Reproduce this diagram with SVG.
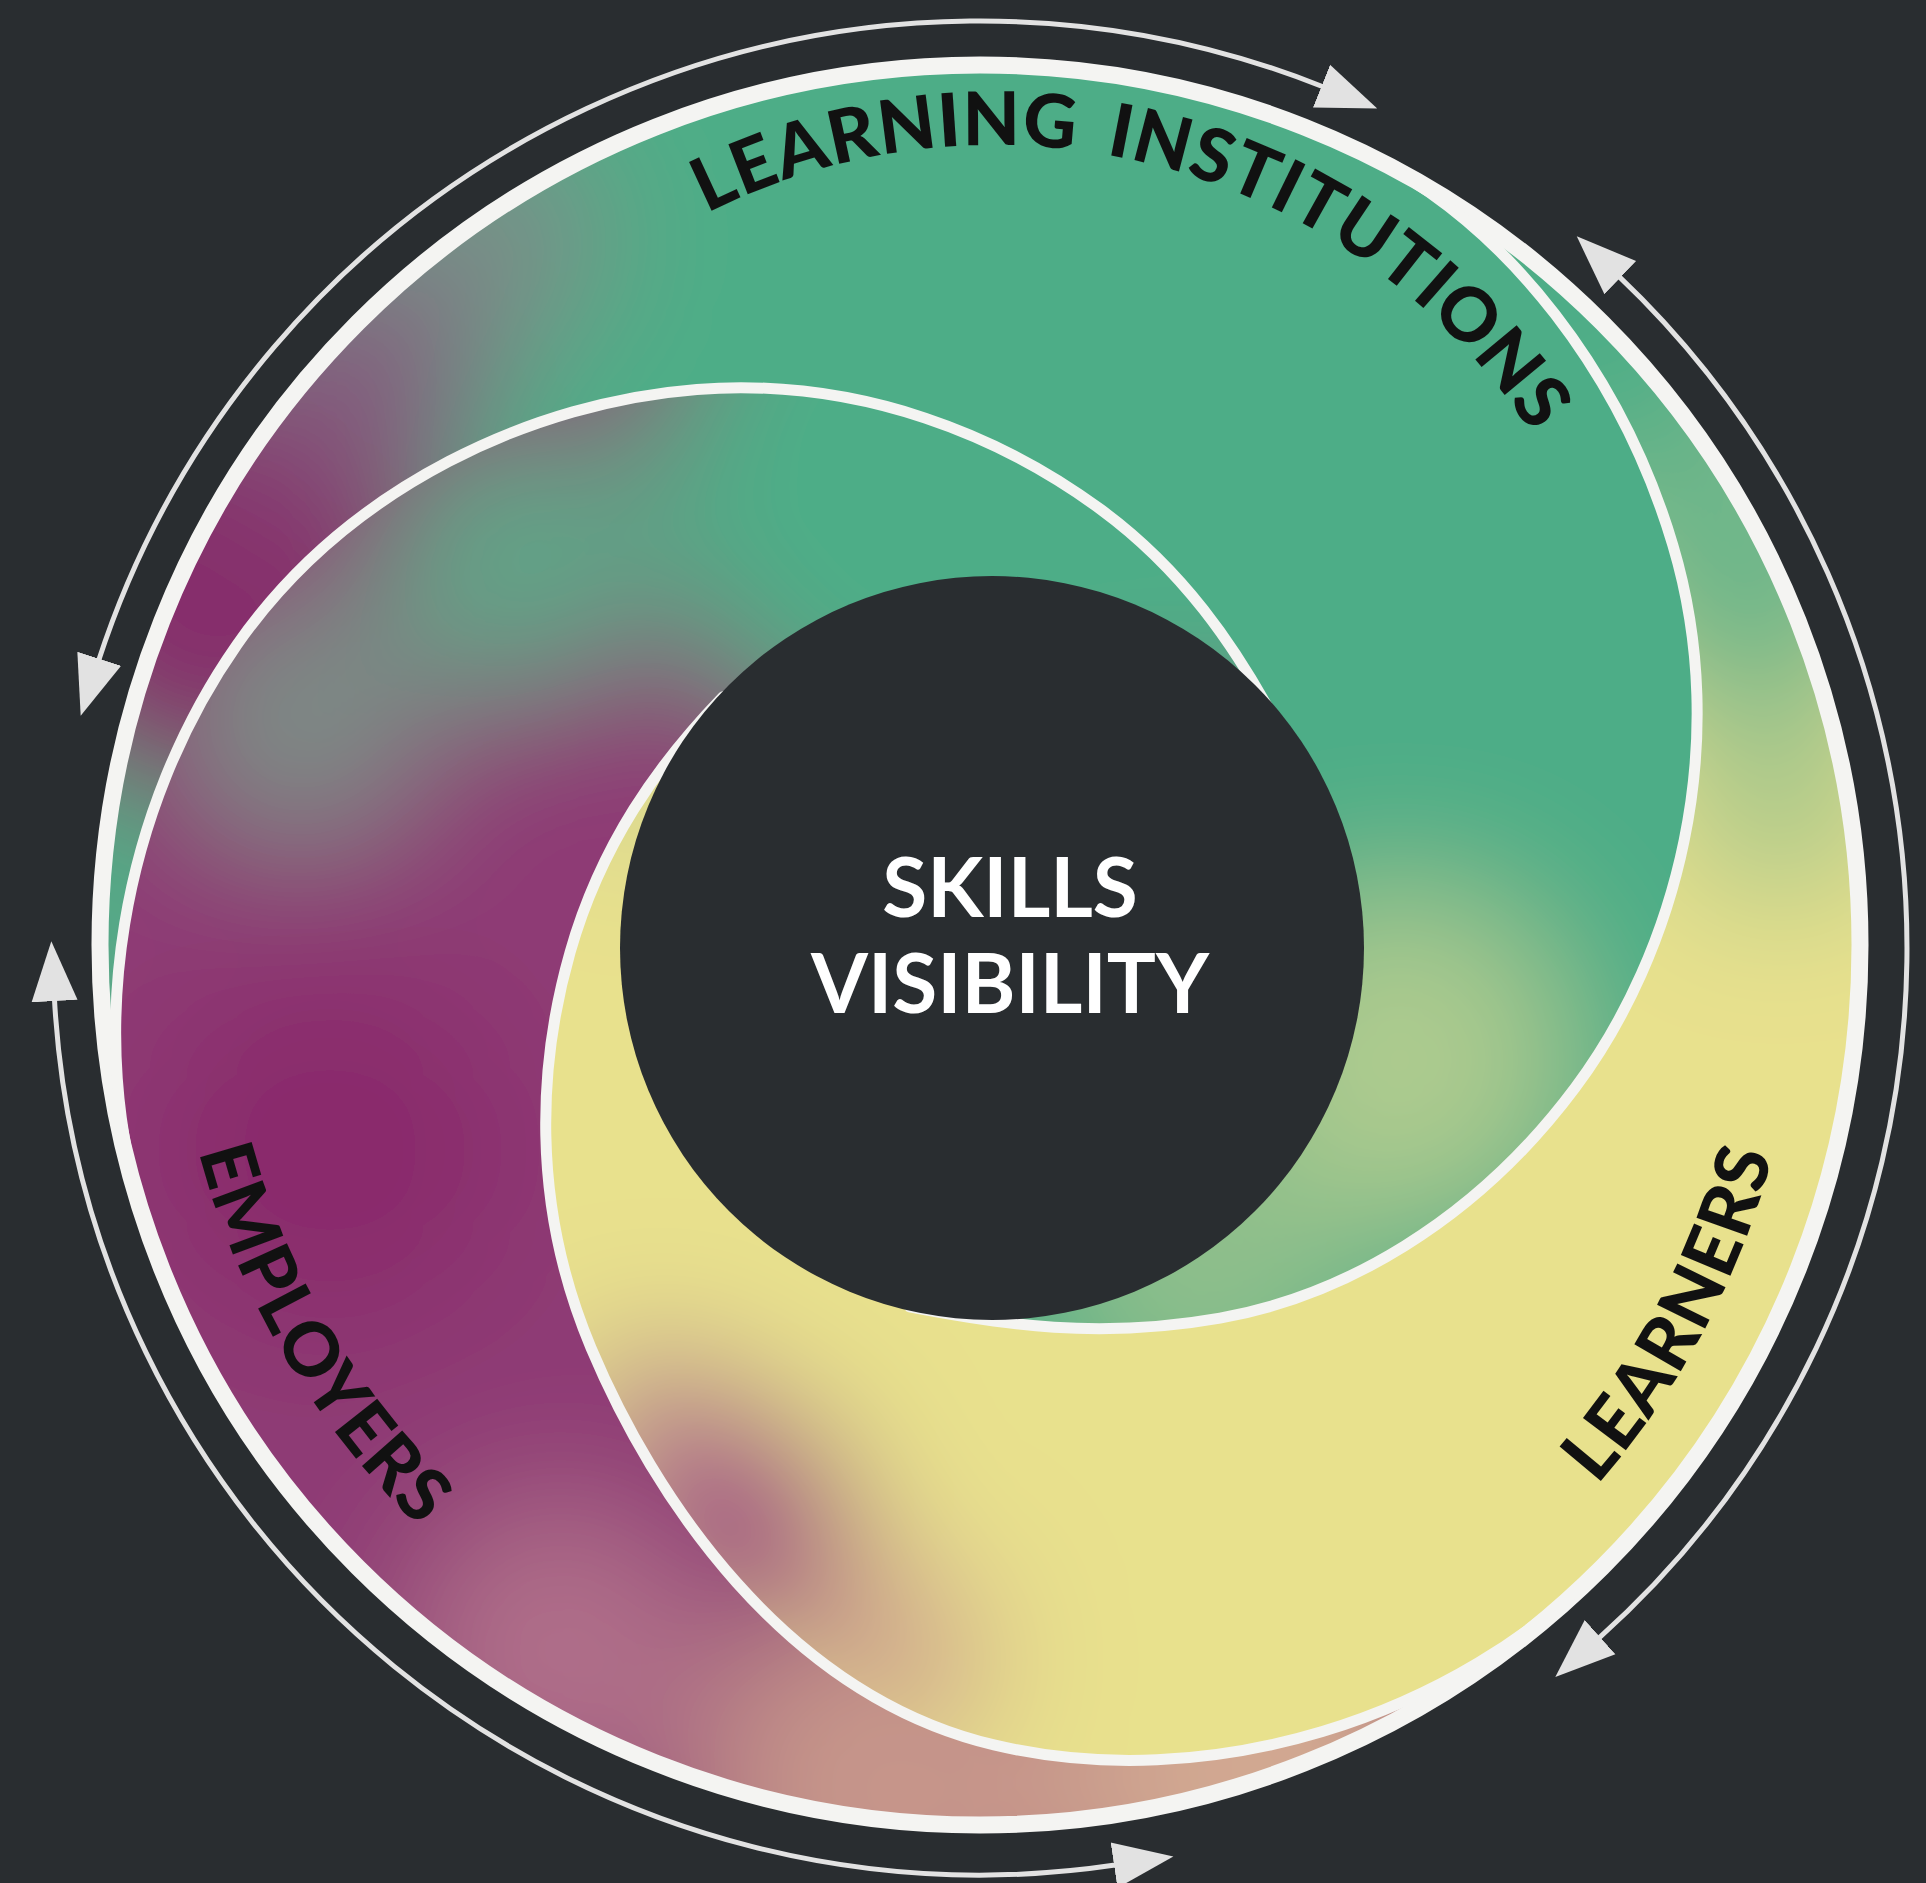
<svg xmlns="http://www.w3.org/2000/svg" width="1926" height="1883" viewBox="0 0 1926 1883">
<style>
.bg{fill:#292D30}
.ring{fill:none;stroke:#F4F4F2;stroke-width:17}
.swirl{fill:none;stroke:#F4F4F2;stroke-width:11;stroke-linecap:round}
.arrow{fill:none;stroke:#E2E2E2;stroke-width:5;marker-start:url(#head);marker-end:url(#head)}
.lbl{font-family:Lato,'Liberation Sans',sans-serif;font-weight:900;font-size:74px;fill:#111111;letter-spacing:1px}
.ctr{font-family:Lato,'Liberation Sans',sans-serif;font-weight:700;font-size:82px;fill:#FFFFFF;text-anchor:middle}
</style>
<defs>
<filter id="soft" filterUnits="userSpaceOnUse" x="-300" y="-300" width="2526" height="2483">
<feGaussianBlur stdDeviation="70"/>
</filter>
<clipPath id="band1"><path d="M 148 1231.5 A 880 880 0 0 1 1351.9 147.5 C 1514.3 223.2 1624.9 384.6 1672.8 545 C 1732.4 744.4 1676 952.7 1575.1 1087.8 C 1473.7 1223.6 1340.6 1296.8 1220 1318.1 C 1099.4 1339.4 1001.8 1324.8 909.7 1306.9 L 1272.8 716.2 C 1234.3 646.2 1183.5 570.3 1100.8 509.5 C 1004.5 438.6 863.5 376.7 696.9 389.4 C 536.2 401.7 349.4 484.1 236.9 644.8 C 124.4 805.5 79.7 1033.1 148 1231.5 Z"/></clipPath>
<clipPath id="band2"><path d="M 1351.9 147.5 A 880 880 0 0 1 1613 1556.3 C 1453 1722 1204.4 1794.9 994 1744.9 C 783.6 1694.9 652.8 1494.8 591 1347.8 C 529.2 1200.8 539.3 1060.1 570.1 952.2 C 600.9 844.3 658 764.1 723 696.8 L 909.7 1306.9 C 1001.8 1324.8 1099.4 1339.4 1220 1318.1 C 1340.6 1296.8 1473.7 1223.6 1575.1 1087.8 C 1676 952.7 1732.4 744.4 1672.8 545 C 1624.9 384.6 1514.3 223.2 1351.9 147.5 Z"/></clipPath>
<clipPath id="band3"><path d="M 1613 1556.3 A 880 880 0 0 1 148 1231.5 C 79.7 1033.1 124.4 805.5 236.9 644.8 C 349.4 484.1 536.2 401.7 696.9 389.4 C 863.5 376.7 1004.5 438.6 1100.8 509.5 C 1183.5 570.3 1234.3 646.2 1272.8 716.2 L 723 696.8 C 658 764.1 600.9 844.3 570.1 952.2 C 539.3 1060.1 529.2 1200.8 591 1347.8 C 652.8 1494.8 783.6 1694.9 994 1744.9 C 1204.4 1794.9 1453 1722 1613 1556.3 Z"/></clipPath>
<marker id="head" markerUnits="userSpaceOnUse" markerWidth="64" markerHeight="52" viewBox="0 0 64 52" refX="3" refY="26" orient="auto-start-reverse">
<path d="M0,3 L60,26 L0,49 Z" fill="#E2E2E2"/>
</marker>
<path id="tp-li" d="M 539.6 333.6 A 644 644 0 0 1 1617 622.3"/>
<path id="tp-le" d="M 1287.2 1705.3 A 820 820 0 0 0 1782.1 774.5"/>
<path id="tp-em" d="M 183 811.6 A 808 808 0 0 0 710.2 1706.7"/>
</defs>

<rect class="bg" x="0" y="0" width="1926" height="1883"/>

<g id="segment-learning-institutions">
<g clip-path="url(#band1)">
<g filter="url(#soft)">
<rect x="-200" y="-200" width="2326" height="2283" fill="#4DAD87"/>
<circle cx="220" cy="580" r="230" fill="#862F6C"/>
<circle cx="360" cy="370" r="130" fill="#845A7E"/>
<circle cx="490" cy="240" r="110" fill="#7D8A88"/>
<circle cx="115" cy="1000" r="60" fill="#6F9A88"/>
<circle cx="1400" cy="1060" r="170" fill="#ADCB8E"/>
<circle cx="1200" cy="1260" r="150" fill="#8FBF8B"/>
</g>
</g>
<text class="lbl" text-anchor="middle" word-spacing="12"><textPath href="#tp-li" startOffset="50%">LEARNING INSTITUTIONS</textPath></text>
</g>

<g id="segment-learners">
<g clip-path="url(#band2)">
<g filter="url(#soft)">
<rect x="-200" y="-200" width="2326" height="2283" fill="#E8E18D"/>
<circle cx="1580" cy="300" r="230" fill="#4DAD87"/>
<circle cx="1750" cy="560" r="170" fill="#6DB68A"/>
<circle cx="1780" cy="800" r="110" fill="#A9C88B"/>
<circle cx="730" cy="1530" r="125" fill="#9E4680"/>
<circle cx="660" cy="1430" r="80" fill="#B0668E"/>
<circle cx="890" cy="1660" r="100" fill="#CFA38E"/>
<circle cx="640" cy="760" r="100" fill="#D6D590"/>
</g>
</g>
<text class="lbl" text-anchor="middle"><textPath href="#tp-le" startOffset="50%">LEARNERS</textPath></text>
</g>

<g id="segment-employers">
<g clip-path="url(#band3)">
<g filter="url(#soft)">
<rect x="-200" y="-200" width="2326" height="2283" fill="#8E3B74"/>
<circle cx="950" cy="470" r="300" fill="#4DAD87"/>
<circle cx="1250" cy="600" r="150" fill="#4DAD87"/>
<circle cx="520" cy="560" r="140" fill="#5FA487"/>
<circle cx="300" cy="720" r="130" fill="#7B8C86"/>
<circle cx="1250" cy="1770" r="200" fill="#D1A891"/>
<circle cx="900" cy="1790" r="200" fill="#C6958A"/>
<circle cx="560" cy="1650" r="150" fill="#B06F8A"/>
<circle cx="330" cy="1150" r="180" fill="#8A2C6C"/>
</g>
</g>
<text class="lbl" text-anchor="middle"><textPath href="#tp-em" startOffset="50%">EMPLOYERS</textPath></text>
</g>

<g id="swirl-lines">
<circle class="ring" cx="980" cy="945" r="880"/>
<path class="swirl" d="M 148 1231.5 C 79.7 1033.1 124.4 805.5 236.9 644.8 C 349.4 484.1 536.2 401.7 696.9 389.4 C 863.5 376.7 1004.5 438.6 1100.8 509.5 C 1183.5 570.3 1234.3 646.2 1272.8 716.2"/>
<path class="swirl" d="M 1351.9 147.5 C 1514.3 223.2 1624.9 384.6 1672.8 545 C 1732.4 744.4 1676 952.7 1575.1 1087.8 C 1473.7 1223.6 1340.6 1296.8 1220 1318.1 C 1099.4 1339.4 1001.8 1324.8 909.7 1306.9"/>
<path class="swirl" d="M 1613 1556.3 C 1453 1722 1204.4 1794.9 994 1744.9 C 783.6 1694.9 652.8 1494.8 591 1347.8 C 529.2 1200.8 539.3 1060.1 570.1 952.2 C 600.9 844.3 658 764.1 723 696.8"/>
</g>

<g id="center-skills-visibility">
<circle class="bg" cx="992" cy="948" r="372"/>
<text class="ctr" x="1010" y="917">SKILLS</text>
<text class="ctr" x="1010" y="1013">VISIBILITY</text>
</g>

<g id="connectors">
<path class="arrow" d="M 98.3 661.6 A 927 927 0 0 1 1324.3 87.3"/>
<path class="arrow" d="M 1618.1 275.6 A 927 927 0 0 1 1597.8 1639.1"/>
<path class="arrow" d="M 1117 1864.8 A 927 927 0 0 1 54.4 998.1"/>
</g>
</svg>
